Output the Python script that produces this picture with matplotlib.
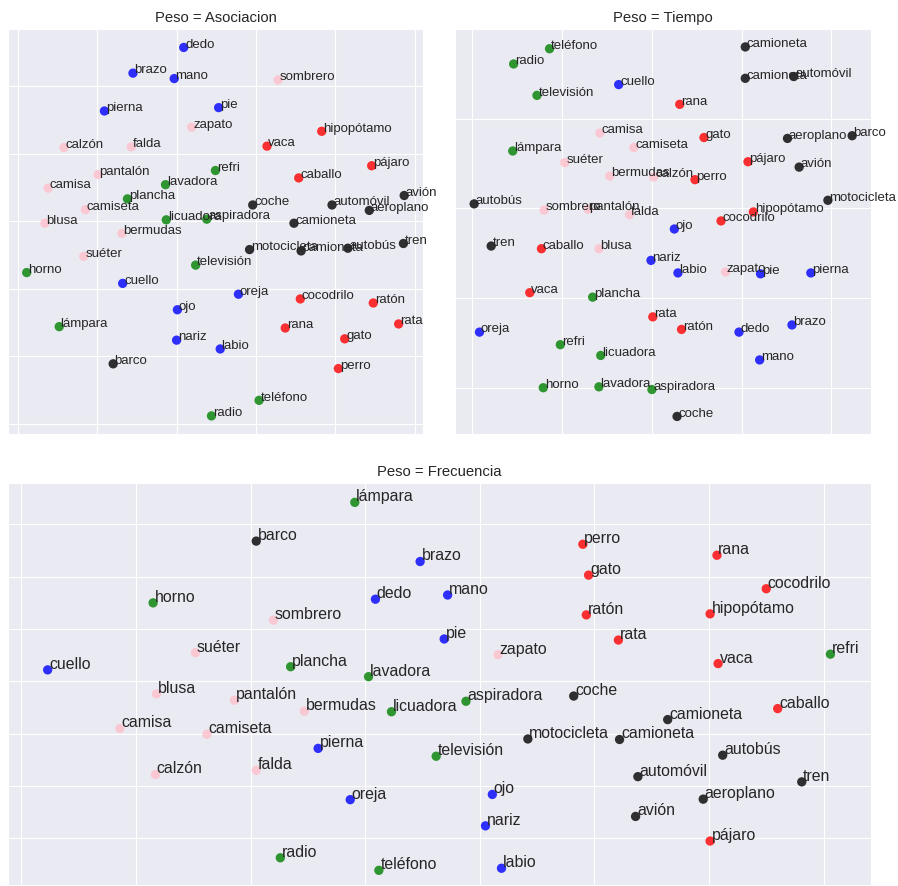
import matplotlib
matplotlib.use('Agg')
import matplotlib.pyplot as plt
import seaborn as sns

sns.set_style('darkgrid')
plt.rcParams['font.family'] = ['Liberation Sans', 'DejaVu Sans']

# words grouped by category (10 per group)
words = ['dedo', 'brazo', 'mano', 'pierna', 'pie', 'cuello', 'oreja', 'ojo', 'nariz', 'labio',
         'hipopótamo', 'vaca', 'pájaro', 'caballo', 'cocodrilo', 'ratón', 'rata', 'rana', 'gato', 'perro',
         'sombrero', 'zapato', 'calzón', 'falda', 'pantalón', 'camisa', 'camiseta', 'blusa', 'bermudas', 'suéter',
         'refri', 'lavadora', 'plancha', 'licuadora', 'aspiradora', 'televisión', 'horno', 'lámpara', 'teléfono', 'radio',
         'coche', 'automóvil', 'avión', 'aeroplano', 'camioneta', 'motocicleta', 'camioneta', 'autobús', 'tren', 'barco']
categories = ['cuerpo'] * 10 + ['animal'] * 10 + ['ropa'] * 10 + ['aparato'] * 10 + ['vehiculo'] * 10
cat_colors = {'cuerpo': 'blue', 'animal': 'red', 'ropa': 'pink', 'aparato': 'green', 'vehiculo': 'black'}

# Peso = Asociacion
asoc_x = [2.09, 1.45, 1.97, 1.09, 2.53, 1.32, 2.78, 2.01, 2.00, 2.55,
          3.83, 3.14, 4.46, 3.54, 3.56, 4.48, 4.80, 3.37, 4.12, 4.04,
          3.28, 2.19, 0.58, 1.43, 1.01, 0.38, 0.85, 0.34, 1.31, 0.83,
          2.49, 1.86, 1.38, 1.87, 2.38, 2.24, 0.11, 0.52, 3.04, 2.44,
          2.96, 3.96, 4.87, 4.43, 3.48, 2.92, 3.57, 4.16, 4.86, 1.20]
asoc_y = [5.57, 5.19, 5.11, 4.63, 4.68, 2.08, 1.92, 1.69, 1.24, 1.11,
          4.33, 4.11, 3.82, 3.64, 1.85, 1.79, 1.48, 1.42, 1.26, 0.82,
          5.09, 4.39, 4.09, 4.10, 3.69, 3.49, 3.17, 2.97, 2.82, 2.48,
          3.75, 3.54, 3.33, 3.02, 3.03, 2.35, 2.24, 1.44, 0.35, 0.12,
          3.24, 3.24, 3.38, 3.16, 2.97, 2.58, 2.56, 2.60, 2.67, 0.89]

# Peso = Tiempo
tiempo_x = [2.97, 3.56, 3.20, 3.77, 3.21, 1.63, 0.08, 2.25, 1.99, 2.29,
            3.13, 0.64, 3.07, 0.77, 2.77, 2.33, 2.01, 2.31, 2.58, 2.48,
            0.80, 2.82, 2.02, 1.75, 1.29, 1.42, 1.80, 1.41, 1.53, 1.03,
            0.98, 1.41, 1.34, 1.43, 2.00, 0.72, 0.79, 0.45, 0.86, 0.46,
            2.28, 3.58, 3.64, 3.51, 3.04, 3.96, 3.04, 0.02, 0.21, 4.23]
tiempo_y = [0.62, 0.70, 0.31, 1.28, 1.27, 3.38, 0.62, 1.77, 1.42, 1.28,
            1.96, 1.06, 2.52, 1.55, 1.86, 0.65, 0.79, 3.16, 2.79, 2.32,
            1.98, 1.29, 2.35, 1.93, 1.99, 2.84, 2.68, 1.55, 2.36, 2.51,
            0.48, 0.01, 1.01, 0.36, -0.02, 3.26, 0.00, 2.64, 3.78, 3.61,
            -0.32, 3.47, 2.46, 2.78, 3.80, 2.09, 3.45, 2.05, 1.58, 2.81]

# Peso = Frecuencia
frec_x = [3.09, 3.48, 3.72, 2.59, 3.69, 0.23, 2.87, 4.11, 4.05, 4.19,
          6.01, 6.08, 6.01, 6.60, 6.50, 4.93, 5.21, 6.07, 4.95, 4.90,
          2.20, 4.16, 1.17, 2.05, 1.86, 0.86, 1.62, 1.18, 2.47, 1.52,
          7.06, 3.03, 2.35, 3.23, 3.88, 3.62, 1.15, 2.91, 3.12, 2.26,
          4.82, 5.38, 5.36, 5.95, 5.64, 4.42, 5.22, 6.12, 6.81, 2.05]
frec_y = [4.57, 5.29, 4.65, 1.72, 3.81, 3.22, 0.74, 0.84, 0.24, -0.57,
          4.29, 3.34, -0.05, 2.48, 4.77, 4.27, 3.79, 5.41, 5.03, 5.62,
          4.17, 3.51, 1.22, 1.30, 2.64, 2.10, 1.99, 2.76, 2.43, 3.55,
          3.52, 3.09, 3.28, 2.42, 2.62, 1.57, 4.50, 6.42, -0.61, -0.37,
          2.72, 1.18, 0.42, 0.75, 2.27, 1.90, 1.89, 1.59, 1.08, 5.68]

W, H = 898, 887
fig = plt.figure(figsize=(W / 100, H / 100), dpi=100)


def make_ax(left, top, right, bottom):
    return fig.add_axes([left / W, 1 - bottom / H, (right - left) / W, (bottom - top) / H])


def draw(ax, xs, ys, title, xlim, ylim, xticks, yticks, fs, off):
    cols = [cat_colors[c] for c in categories]
    ax.scatter(xs, ys, c=cols, s=45, alpha=0.8, linewidths=0, zorder=3)
    for w, x, y in zip(words, xs, ys):
        ax.annotate(w, (x, y), xytext=off, textcoords='offset points',
                    fontsize=fs, color='.15', zorder=4)
    ax.set_xlim(*xlim)
    ax.set_ylim(*ylim)
    ax.set_xticks(xticks)
    ax.set_yticks(yticks)
    ax.set_xticklabels([])
    ax.set_yticklabels([])
    ax.tick_params(length=0)
    ax.set_title(title, fontsize=10.7)


ax1 = make_ax(8, 30, 423, 435)
draw(ax1, asoc_x, asoc_y, 'Peso = Asociacion', (-0.126, 5.107), (-0.148, 5.843),
     range(0, 6), range(0, 6), 9.5, (1, 0.5))

ax2 = make_ax(455, 30, 871, 435)
draw(ax2, tiempo_x, tiempo_y, 'Peso = Tiempo', (-0.193, 4.44), (-0.516, 3.995),
     range(0, 5), range(0, 5), 9.5, (1, 0.5))

ax3 = make_ax(8, 484, 871, 886)
draw(ax3, frec_x, frec_y, 'Peso = Frecuencia', (-0.116, 7.414), (-0.89, 6.79),
     range(0, 8), range(0, 7), 11.4, (1, 1.5))

fig.savefig('out.png', dpi=100)
